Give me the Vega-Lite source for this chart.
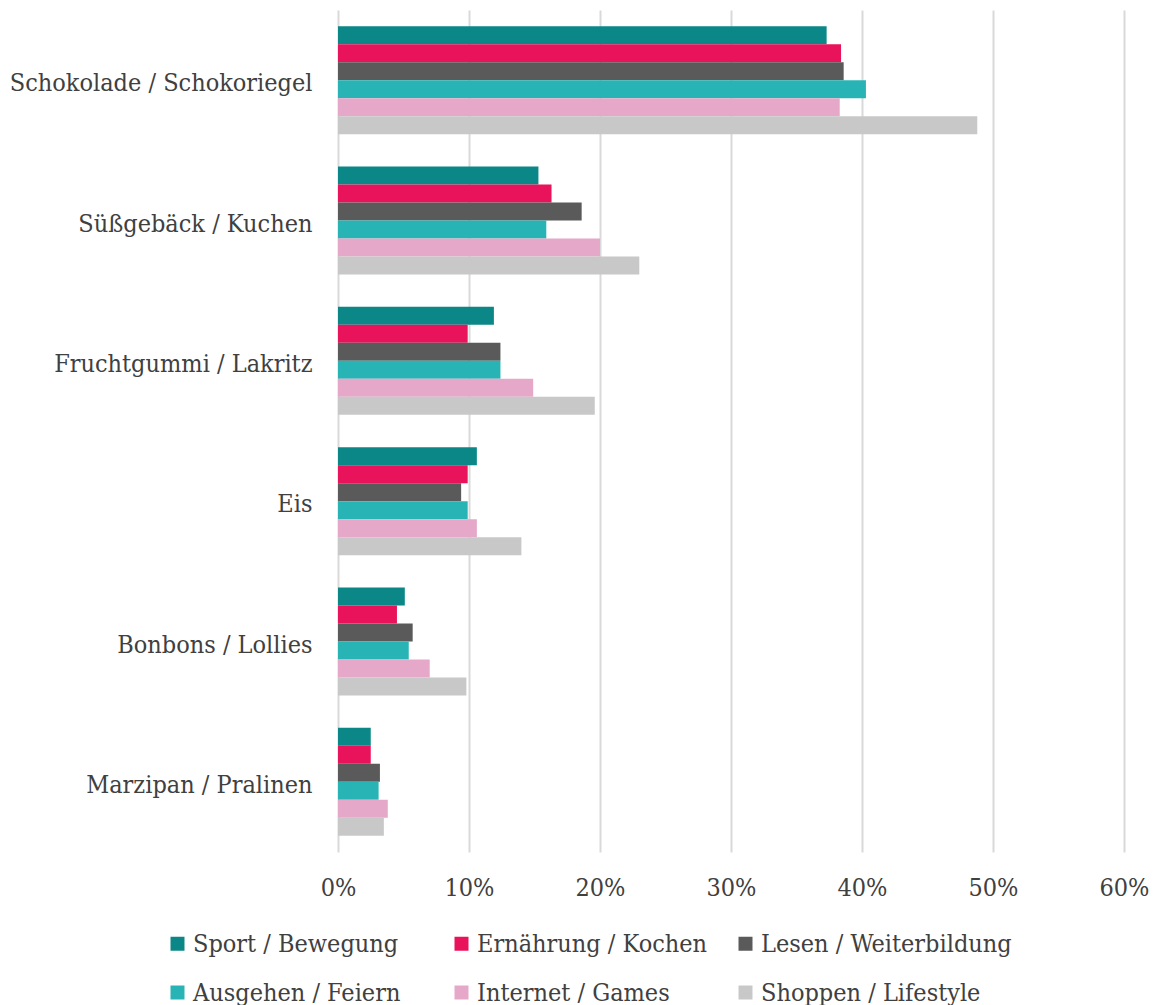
{
  "$schema": "https://vega.github.io/schema/vega-lite/v6.json",
  "width": 786,
  "height": 842,
  "autosize": {"type": "none"},
  "padding": {"left": 338, "top": 10, "right": 33, "bottom": 153},
  "background": "white",
  "config": {"view": {"stroke": null}, "font": "DejaVu Serif Condensed"},
  "data": {
    "values": [
      {"category": "Schokolade / Schokoriegel", "series": "Sport / Bewegung", "value": 0.373},
      {"category": "Schokolade / Schokoriegel", "series": "Ernährung / Kochen", "value": 0.384},
      {"category": "Schokolade / Schokoriegel", "series": "Lesen / Weiterbildung", "value": 0.386},
      {"category": "Schokolade / Schokoriegel", "series": "Ausgehen / Feiern", "value": 0.403},
      {"category": "Schokolade / Schokoriegel", "series": "Internet / Games", "value": 0.383},
      {"category": "Schokolade / Schokoriegel", "series": "Shoppen / Lifestyle", "value": 0.488},
      {"category": "Süßgebäck / Kuchen", "series": "Sport / Bewegung", "value": 0.153},
      {"category": "Süßgebäck / Kuchen", "series": "Ernährung / Kochen", "value": 0.163},
      {"category": "Süßgebäck / Kuchen", "series": "Lesen / Weiterbildung", "value": 0.186},
      {"category": "Süßgebäck / Kuchen", "series": "Ausgehen / Feiern", "value": 0.159},
      {"category": "Süßgebäck / Kuchen", "series": "Internet / Games", "value": 0.200},
      {"category": "Süßgebäck / Kuchen", "series": "Shoppen / Lifestyle", "value": 0.230},
      {"category": "Fruchtgummi / Lakritz", "series": "Sport / Bewegung", "value": 0.119},
      {"category": "Fruchtgummi / Lakritz", "series": "Ernährung / Kochen", "value": 0.099},
      {"category": "Fruchtgummi / Lakritz", "series": "Lesen / Weiterbildung", "value": 0.124},
      {"category": "Fruchtgummi / Lakritz", "series": "Ausgehen / Feiern", "value": 0.124},
      {"category": "Fruchtgummi / Lakritz", "series": "Internet / Games", "value": 0.149},
      {"category": "Fruchtgummi / Lakritz", "series": "Shoppen / Lifestyle", "value": 0.196},
      {"category": "Eis", "series": "Sport / Bewegung", "value": 0.106},
      {"category": "Eis", "series": "Ernährung / Kochen", "value": 0.099},
      {"category": "Eis", "series": "Lesen / Weiterbildung", "value": 0.094},
      {"category": "Eis", "series": "Ausgehen / Feiern", "value": 0.099},
      {"category": "Eis", "series": "Internet / Games", "value": 0.106},
      {"category": "Eis", "series": "Shoppen / Lifestyle", "value": 0.140},
      {"category": "Bonbons / Lollies", "series": "Sport / Bewegung", "value": 0.051},
      {"category": "Bonbons / Lollies", "series": "Ernährung / Kochen", "value": 0.045},
      {"category": "Bonbons / Lollies", "series": "Lesen / Weiterbildung", "value": 0.057},
      {"category": "Bonbons / Lollies", "series": "Ausgehen / Feiern", "value": 0.054},
      {"category": "Bonbons / Lollies", "series": "Internet / Games", "value": 0.070},
      {"category": "Bonbons / Lollies", "series": "Shoppen / Lifestyle", "value": 0.098},
      {"category": "Marzipan / Pralinen", "series": "Sport / Bewegung", "value": 0.025},
      {"category": "Marzipan / Pralinen", "series": "Ernährung / Kochen", "value": 0.025},
      {"category": "Marzipan / Pralinen", "series": "Lesen / Weiterbildung", "value": 0.032},
      {"category": "Marzipan / Pralinen", "series": "Ausgehen / Feiern", "value": 0.031},
      {"category": "Marzipan / Pralinen", "series": "Internet / Games", "value": 0.038},
      {"category": "Marzipan / Pralinen", "series": "Shoppen / Lifestyle", "value": 0.035}
    ]
  },
  "mark": {"type": "bar"},
  "encoding": {
    "y": {
      "field": "category",
      "type": "nominal",
      "sort": ["Schokolade / Schokoriegel", "Süßgebäck / Kuchen", "Fruchtgummi / Lakritz", "Eis", "Bonbons / Lollies", "Marzipan / Pralinen"],
      "scale": {"paddingInner": 0.23, "paddingOuter": 0.115},
      "axis": {
        "title": null,
        "domain": false,
        "ticks": false,
        "labelPadding": 26,
        "labelFontSize": 25,
        "labelColor": "#404040",
        "labelLimit": 400,
        "labelOffset": 3
      }
    },
    "yOffset": {
      "field": "series",
      "type": "nominal",
      "sort": ["Sport / Bewegung", "Ernährung / Kochen", "Lesen / Weiterbildung", "Ausgehen / Feiern", "Internet / Games", "Shoppen / Lifestyle"],
      "scale": {"paddingInner": 0, "paddingOuter": 0}
    },
    "x": {
      "field": "value",
      "type": "quantitative",
      "scale": {"domain": [0, 0.6], "nice": false},
      "axis": {
        "title": null,
        "format": ".0%",
        "values": [0, 0.1, 0.2, 0.3, 0.4, 0.5, 0.6],
        "domain": false,
        "ticks": false,
        "grid": true,
        "gridColor": "#d9d9d9",
        "gridWidth": 2,
        "labelFlush": false,
        "labelPadding": 23,
        "labelFontSize": 25,
        "labelColor": "#404040"
      }
    },
    "color": {
      "field": "series",
      "type": "nominal",
      "scale": {
        "domain": ["Sport / Bewegung", "Ernährung / Kochen", "Lesen / Weiterbildung", "Ausgehen / Feiern", "Internet / Games", "Shoppen / Lifestyle"],
        "range": ["#0b8788", "#e8135a", "#5a5a5a", "#28b4b4", "#e5a8c8", "#c8c8c8"]
      },
      "legend": {
        "title": null,
        "orient": "none",
        "legendX": -173,
        "legendY": 921,
        "direction": "horizontal",
        "columns": 3,
        "gridAlign": "all",
        "columnPadding": 5,
        "rowPadding": 23,
        "symbolType": "square",
        "symbolSize": 196,
        "symbolStrokeWidth": 0,
        "labelFontSize": 25,
        "labelColor": "#404040",
        "labelOffset": 3,
        "labelLimit": 400
      }
    }
  }
}
